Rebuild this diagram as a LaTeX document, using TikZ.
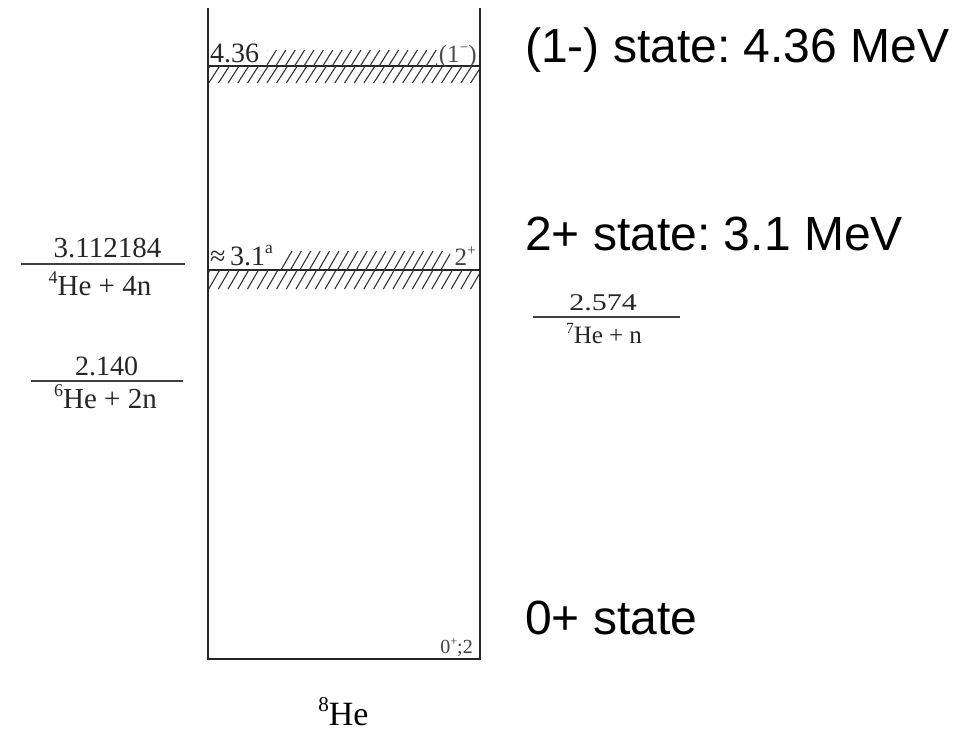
\documentclass[tikz,border=0pt]{standalone}
\usepackage{fontspec}
\setmainfont{Liberation Serif}
\newfontfamily\arialf{Liberation Sans}
\newcommand\supx[1]{\raisebox{0.4em}{\scalebox{0.62}{#1}}}
\begin{document}
\frenchspacing
\begin{tikzpicture}[x=1pt,y=-1pt,
  frame/.style={line width=1.6pt,draw=black!85},
  level/.style={line width=1.6pt,draw=black!85},
  thr/.style={line width=1.3pt,draw=black!75},
  hatch/.style={line width=1.1pt,draw=black!80},
  lv/.style={inner sep=0pt,text=black!85,font=\fontsize{28}{30}\selectfont},
  lvsmall/.style={inner sep=0pt,text=black!75,font=\fontsize{20}{22}\selectfont},
  th/.style={inner sep=0pt,text=black!85,anchor=base},
  lbl/.style={inner sep=0pt,anchor=base west,font=\arialf\fontsize{48}{54}\selectfont}]
\useasboundingbox (0,0) rectangle (961,734);
% box
\coordinate (tl) at (208,8);
\coordinate (bl) at (208,659);
\coordinate (br) at (480,659);
\coordinate (tr) at (480,8);
\draw[frame] (tl) -- (bl) -- (br) -- (tr);
% levels
\coordinate (l1a) at (208,66); \coordinate (l1b) at (480,66);
\coordinate (l2a) at (208,270); \coordinate (l2b) at (480,270);
\draw[level] (l1a) -- (l1b);
\draw[level] (l2a) -- (l2b);
% hatching
\begin{scope}
\clip (267,50) rectangle (437,66);
\foreach \x in {257,266.4,...,440} \draw[hatch] (\x,66) -- (\x+10,50);
\end{scope}
\begin{scope}
\clip (209,66) rectangle (479,83);
\foreach \x in {199,208.7,...,480} \draw[hatch] (\x,83) -- (\x+11,66);
\end{scope}
\begin{scope}
\clip (281,251) rectangle (450,270);
\foreach \x in {281,290.4,...,452} \draw[hatch] (\x,270) -- (\x+11,251);
\end{scope}
\begin{scope}
\clip (209,270) rectangle (479,289);
\foreach \x in {199,208.7,...,480} \draw[hatch] (\x,289) -- (\x+11,270);
\end{scope}
% level labels
\node[lv,anchor=base west] (e1) at (210,62) {4.36};
\node[lv,anchor=base east,font=\fontsize{25}{27}\selectfont,text=black!70] (j1) at (477,62) {(1\supx{−})};
\node[lv,anchor=base west] (e2) at (210,265) {≈\,3.1\supx{a}};
\node[lv,anchor=base east,font=\fontsize{25}{27}\selectfont,text=black!75] (j2) at (476,265) {2\supx{+}};
\node[lvsmall,anchor=base east] (j0) at (473,653) {0\supx{+};2};
% thresholds left
\node[th,font=\fontsize{29}{31}\selectfont] (t1) at (107.5,257) {3.112184};
\coordinate (t1a) at (21,264); \coordinate (t1b) at (185,264);
\draw[thr] (t1a) -- (t1b);
\node[th,font=\fontsize{29}{31}\selectfont] (t1c) at (100,295) {\supx{4}He + 4n};
\node[th,font=\fontsize{28}{30}\selectfont] (t2) at (106.5,375) {2.140};
\coordinate (t2a) at (31,381); \coordinate (t2b) at (183,381);
\draw[thr] (t2a) -- (t2b);
\node[th,font=\fontsize{29}{31}\selectfont] (t2c) at (105.5,408) {\supx{6}He + 2n};
% threshold right
\node[th,font=\fontsize{24}{26}\selectfont] (t3) at (603,310) {\scalebox{1.25}[1]{2.574}};
\coordinate (t3a) at (533,317); \coordinate (t3b) at (680,317);
\draw[thr] (t3a) -- (t3b);
\node[th,font=\fontsize{25}{27}\selectfont] (t3c) at (604,343) {\supx{7}He + n};
% nucleus
\node[th,font=\fontsize{34}{36}\selectfont,text=black] (nuc) at (343.5,725) {\supx{8}He};
% right labels
\node[lbl] (s1) at (525,62) {(1-) state: 4.36 MeV};
\node[lbl] (s2) at (525,250) {2+ state: 3.1 MeV};
\node[lbl] (s0) at (525,634) {0+ state};
\end{tikzpicture}
\end{document}
